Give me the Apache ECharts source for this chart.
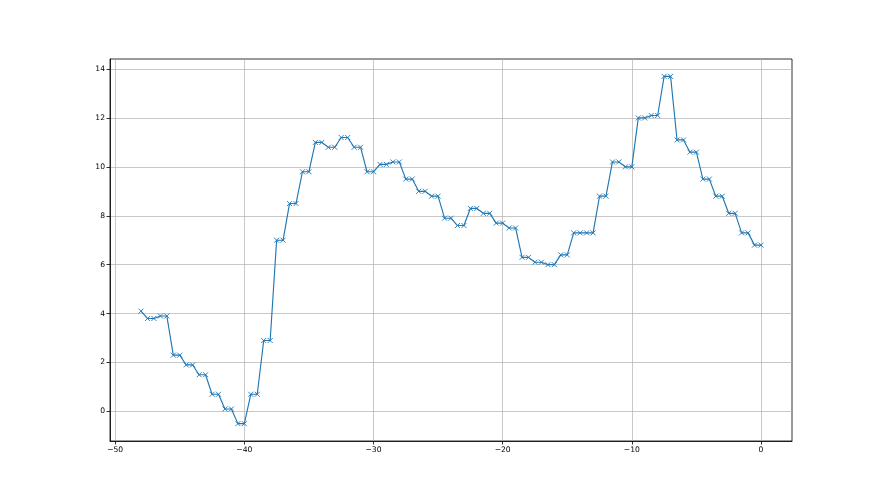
<!DOCTYPE html>
<html>
<head>
<meta charset="utf-8">
<script src="https://cdn.jsdelivr.net/npm/echarts@6/dist/echarts.min.js"></script>
<style>html,body{margin:0;padding:0;background:#fff}#c{width:880px;height:495px}</style>
</head>
<body>
<div id="c"></div>
<script>
var xValues = [-48, -47.5, -47, -46.5, -46, -45.5, -45, -44.5, -44, -43.5, -43, -42.5, -42, -41.5, -41, -40.5, -40,
  -39.5, -39, -38.5, -38, -37.5, -37, -36.5, -36, -35.5, -35, -34.5, -34, -33.5, -33, -32.5, -32, -31.5, -31, -30.5, -30,
  -29.5, -29, -28.5, -28, -27.5, -27, -26.5, -26, -25.5, -25, -24.5, -24, -23.5, -23, -22.5, -22, -21.5, -21, -20.5, -20,
  -19.5, -19, -18.5, -18, -17.5, -17, -16.5, -16, -15.5, -15, -14.5, -14, -13.5, -13, -12.5, -12, -11.5, -11, -10.5, -10,
  -9.5, -9, -8.5, -8, -7.5, -7, -6.5, -6, -5.5, -5, -4.5, -4, -3.5, -3, -2.5, -2, -1.5, -1, -0.5, 0];
var yValues = [4.1, 3.8, 3.8, 3.9, 3.9, 2.3, 2.3, 1.9, 1.9, 1.5, 1.5, 0.7, 0.7, 0.1, 0.1, -0.5, -0.5,
  0.7, 0.7, 2.9, 2.9, 7.0, 7.0, 8.5, 8.5, 9.8, 9.8, 11.0, 11.0, 10.8, 10.8, 11.2, 11.2, 10.8, 10.8, 9.8, 9.8,
  10.1, 10.1, 10.2, 10.2, 9.5, 9.5, 9.0, 9.0, 8.8, 8.8, 7.9, 7.9, 7.6, 7.6, 8.3, 8.3, 8.1, 8.1, 7.7, 7.7,
  7.5, 7.5, 6.3, 6.3, 6.1, 6.1, 6.0, 6.0, 6.4, 6.4, 7.3, 7.3, 7.3, 7.3, 8.8, 8.8, 10.2, 10.2, 10.0, 10.0,
  12.0, 12.0, 12.1, 12.1, 13.7, 13.7, 11.1, 11.1, 10.6, 10.6, 9.5, 9.5, 8.8, 8.8, 8.1, 8.1, 7.3, 7.3, 6.8, 6.8];
var xTicks = [-50, -40, -30, -20, -10, 0];
var yTicks = [0, 2, 4, 6, 8, 10, 12, 14];

var data = xValues.map(function (x, i) { return [x, yValues[i]]; });
function fmt(ticks) {
  return function (v) {
    for (var i = 0; i < ticks.length; i++) {
      if (Math.abs(v - ticks[i]) < 1e-6) return String(ticks[i]).replace('-', '\u2212');
    }
    return '';
  };
}
var chart = echarts.init(document.getElementById('c'), null, {renderer: 'canvas'});
var axisCommon = {
  axisLine: {show: true, onZero: false, lineStyle: {color: '#000', width: 0.8}},
  splitLine: {show: true, lineStyle: {color: '#b0b0b0', width: 0.7}},
  axisLabel: {color: '#000', fontFamily: 'DejaVu Sans', fontSize: 7.6, margin: 5}
};
chart.setOption({
  animation: false,
  backgroundColor: '#fff',
  grid: {left: 110, right: 88, top: 59, bottom: 54, show: true, borderColor: '#000', borderWidth: 0.8, backgroundColor: 'transparent'},
  xAxis: Object.assign({}, axisCommon, {
    type: 'value', min: -50.4, max: 2.4, splitNumber: 5,
    axisTick: {show: true, length: 3.5, customValues: xTicks, lineStyle: {color: '#000', width: 0.8}},
    axisLabel: Object.assign({}, axisCommon.axisLabel, {customValues: xTicks, formatter: fmt(xTicks)})
  }),
  yAxis: Object.assign({}, axisCommon, {
    type: 'value', min: -1.21, max: 14.41, splitNumber: 8,
    axisTick: {show: true, length: 3.5, customValues: yTicks, lineStyle: {color: '#000', width: 0.8}},
    axisLabel: Object.assign({}, axisCommon.axisLabel, {customValues: yTicks, formatter: fmt(yTicks)})
  }),
  series: [{
    type: 'line',
    data: data,
    symbol: 'path://M0,0L10,10M10,0L0,10',
    symbolSize: 5,
    showAllSymbol: true,
    lineStyle: {color: '#1f77b4', width: 1.15},
    itemStyle: {color: '#1f77b4', borderColor: '#1f77b4', borderWidth: 0.9}
  }]
});
</script>
</body>
</html>
